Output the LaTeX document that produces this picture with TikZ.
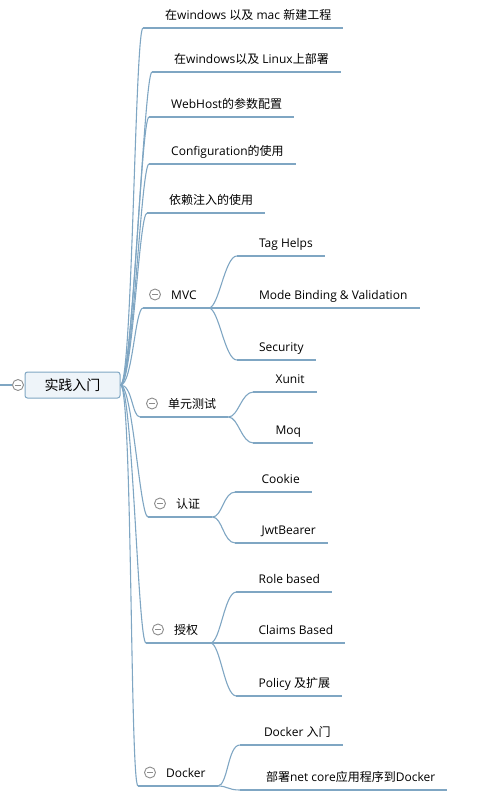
\documentclass[tikz,border=0pt]{standalone}
\usepackage{fontspec}
\newfontfamily\cjk{Noto Sans CJK SC}
\newfontfamily\latin{Open Sans}
\usetikzlibrary{positioning}

% switch fonts between Latin and CJK characters
\newXeTeXintercharclass\hanclass
\makeatletter
\count@="4E00
\loop
  \XeTeXcharclass\count@=\hanclass
  \advance\count@ 1
\ifnum\count@<"A000 \repeat
\makeatother
\XeTeXinterchartokenstate=1
\XeTeXinterchartoks 0 \hanclass = {\cjk}
\XeTeXinterchartoks 4095 \hanclass = {\cjk}
\XeTeXinterchartoks \hanclass 0 = {\latin}
\XeTeXinterchartoks \hanclass 4095 = {\latin}

\definecolor{branchblue}{HTML}{7FA6C3}
\definecolor{rootfill}{HTML}{EEF4F9}
\definecolor{foldgray}{HTML}{8C8C8C}

\tikzset{
  branch/.style={draw=branchblue, line width=1.1pt},
  topic/.style={
    font=\latin\fontsize{12}{14}\selectfont,
    anchor=south west,
    inner xsep=0pt, inner ysep=8.5pt,
    text height=9pt, text depth=0pt,
    execute at begin node={\hspace*{#1}},
    execute at end node={\hspace*{12pt}}},
  topic/.default=22pt,
  foldtopic/.style={topic=28pt},
  fold/.style={
    circle, draw=foldgray, fill=white, line width=0.9pt,
    minimum size=11pt, inner sep=0pt,
    path picture={\draw[foldgray, line width=0.9pt]
      ([xshift=-3pt]path picture bounding box.center) --
      ([xshift=3pt]path picture bounding box.center);}},
  roottopic/.style={
    draw=branchblue, fill=rootfill, line width=1pt,
    rounded corners=2.5pt, minimum width=95pt, minimum height=26pt,
    font=\cjk\fontsize{14}{16}\selectfont},
}

\begin{document}
\begin{tikzpicture}[x=1pt, y=-1pt]
  \useasboundingbox (0,0) rectangle (499,804);
  %% Root
  \node[roottopic] (root) at (72.5,385) {实践入门};
  \coordinate (rootin) at (0,385);
  \node[fold] (rootfold) at (18,385) {};
  \draw[branch] (rootin) -- (rootfold);
  %% Main topics
  \node[topic] (create) at (143,28) {在windows 以及 mac 新建工程};
  \node[topic] (deploy) at (152,72) {在windows以及 Linux上部署};
  \node[topic] (webhost) at (149,117) {WebHost的参数配置};
  \node[topic] (config) at (149,164) {Configuration的使用};
  \node[topic] (di) at (147,213) {依赖注入的使用};
  \node[foldtopic] (mvc) at (143,308) {MVC};
  \node[foldtopic] (test) at (140,417) {单元测试};
  \node[foldtopic] (authn) at (148,517) {认证};
  \node[foldtopic] (authz) at (146,643) {授权};
  \node[foldtopic] (docker) at (138,786) {Docker};
  %% Subtopics
  \node[topic] (tag) at ([shift={(28,-52)}]mvc.south east) {Tag Helps};
  \node[topic] (binding) at ([shift={(28,0)}]mvc.south east) {Mode Binding \& Validation};
  \node[topic] (security) at ([shift={(28,52)}]mvc.south east) {Security};
  \node[topic] (xunit) at ([shift={(25,-25)}]test.south east) {Xunit};
  \node[topic] (moq) at ([shift={(25,26)}]test.south east) {Moq};
  \node[topic=26pt] (cookie) at ([shift={(23,-25)}]authn.south east) {Cookie};
  \node[topic=26pt] (jwt) at ([shift={(23,26)}]authn.south east) {JwtBearer};
  \node[topic] (role) at ([shift={(26,-51)}]authz.south east) {Role based};
  \node[topic] (claims) at ([shift={(26,0)}]authz.south east) {Claims Based};
  \node[topic] (policy) at ([shift={(26,53)}]authz.south east) {Policy 及扩展};
  \node[topic=24pt] (dockerintro) at ([shift={(22,-41)}]docker.south east) {Docker 入门};
  \node[topic=26pt] (dockerdeploy) at ([shift={(22,4)}]docker.south east) {部署net core应用程序到Docker};
  %% Fold markers
  \foreach \n in {mvc,test,authn,authz,docker}
    \node[fold] at ([shift={(12,-13.5)}]\n.south west) {};
  %% Underlines
  \foreach \n in {create,deploy,webhost,config,di,mvc,test,authn,authz,docker,
                  tag,binding,security,xunit,moq,cookie,jwt,role,claims,policy,
                  dockerintro,dockerdeploy}
    \draw[branch] (\n.south west) -- (\n.south east);
  %% Edges
  \foreach \n in {create,deploy,webhost,config,di,mvc,test,authn,authz,docker}
    \draw[branch] (root.east) .. controls +(12,0) and +(-8,0) .. (\n.south west);
  \foreach \p/\c in {mvc/tag,mvc/binding,mvc/security,test/xunit,test/moq,
                     authn/cookie,authn/jwt,authz/role,authz/claims,authz/policy,
                     docker/dockerintro,docker/dockerdeploy}
    \draw[branch] (\p.south east) .. controls +(10,0) and +(-12,0) .. (\c.south west);
\end{tikzpicture}
\end{document}
